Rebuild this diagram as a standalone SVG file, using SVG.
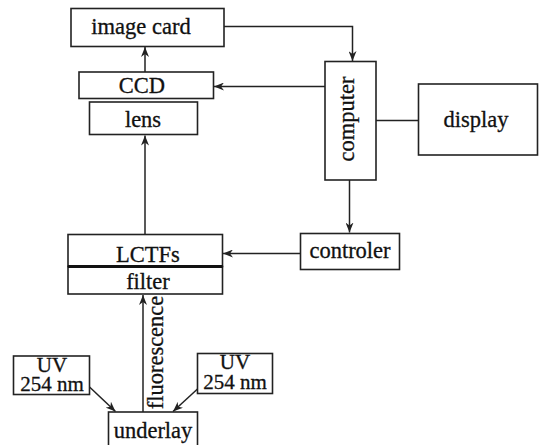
<svg xmlns="http://www.w3.org/2000/svg" width="543" height="445" viewBox="0 0 543 445">
<style>
.box{fill:#fff;stroke:#222;stroke-width:1.6}
.ln{fill:none;stroke:#222;stroke-width:1.5}
text{font-family:"Liberation Serif","DejaVu Serif",serif;font-size:22.5px;fill:#111;text-anchor:middle;stroke:#111;stroke-width:0.3}
.uv{font-size:21px}
</style>
<defs>
<marker id="ah" viewBox="0 0 10 8" refX="10" refY="4" markerWidth="10" markerHeight="8" markerUnits="userSpaceOnUse" orient="auto">
<path d="M0,0 L10,4 L0,8 L3,4 z" fill="#222"/>
</marker>
</defs>
<rect width="543" height="445" fill="#fff"/>
<g id="connectors">
<path class="ln" d="M145,72 V47" marker-end="url(#ah)"/>
<path class="ln" d="M224,26.5 H352.5 V61" marker-end="url(#ah)"/>
<path class="ln" d="M325,86.5 H214" marker-end="url(#ah)"/>
<path class="ln" d="M376,120.5 H418"/>
<path class="ln" d="M349.5,180 V232.5" marker-end="url(#ah)"/>
<path class="ln" d="M300,253.5 H223" marker-end="url(#ah)"/>
<path class="ln" d="M145,234.5 V135.5" marker-end="url(#ah)"/>
<path class="ln" d="M143,412 V295" marker-end="url(#ah)"/>
<path class="ln" d="M89,386.5 L115.5,411.5" marker-end="url(#ah)"/>
<path class="ln" d="M197.5,389 L173,411.5" marker-end="url(#ah)"/>
</g>
<g id="image-card">
<rect class="box" x="71" y="8.5" width="153" height="38"/>
<text x="141" y="34">image card</text>
</g>
<g id="ccd">
<rect class="box" x="79" y="72" width="134.5" height="26.5"/>
<text x="142" y="92.5">CCD</text>
</g>
<g id="lens">
<rect class="box" x="89.5" y="102" width="108" height="32.5"/>
<text x="143" y="126.5">lens</text>
</g>
<g id="computer">
<rect class="box" x="325" y="61.5" width="51" height="118.5"/>
<text transform="translate(354,119) rotate(-90)">computer</text>
</g>
<g id="display">
<rect class="box" x="418.5" y="84" width="119" height="71"/>
<text x="476" y="127">display</text>
</g>
<g id="controler">
<rect class="box" x="300.5" y="233.5" width="99" height="36"/>
<text x="350" y="258">controler</text>
</g>
<g id="lctfs">
<rect class="box" x="68" y="234.5" width="154.5" height="32"/>
<text x="148" y="261.5">LCTFs</text>
</g>
<g id="filter">
<rect class="box" x="68" y="266.5" width="154.5" height="27.5"/>
<path d="M68,266.5 H222.5" stroke="#111" stroke-width="3"/>
<text x="148" y="288.5">filter</text>
</g>
<g id="fluorescence-label">
<text transform="translate(163,352.5) rotate(-90)">fluorescence</text>
</g>
<g id="uv-left">
<rect class="box" x="13.5" y="356" width="76" height="38.5"/>
<text class="uv" x="52" y="371.5">UV</text>
<text class="uv" x="52" y="391">254 nm</text>
</g>
<g id="uv-right">
<rect class="box" x="197.5" y="353.5" width="75" height="40"/>
<text class="uv" x="235" y="369">UV</text>
<text class="uv" x="235" y="389">254 nm</text>
</g>
<g id="underlay">
<rect class="box" x="108.5" y="412" width="89" height="40"/>
<text x="153" y="437.5">underlay</text>
</g>
</svg>
